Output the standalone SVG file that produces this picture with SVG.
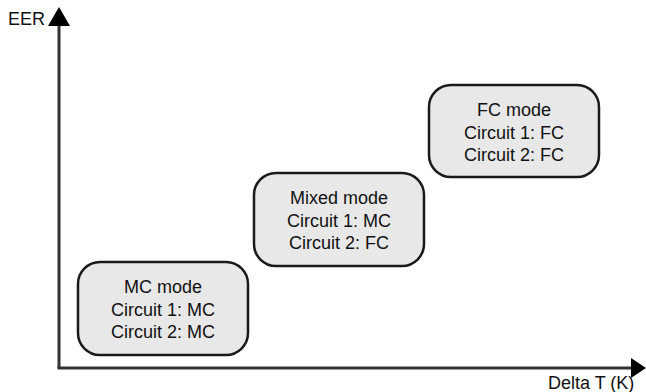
<svg xmlns="http://www.w3.org/2000/svg" width="646" height="392" viewBox="0 0 646 392">
<style>
.box{fill:#e8e8e8;stroke:#1a1a1a;stroke-width:2.5}
.t{font-family:"Liberation Sans",Arial,sans-serif;font-size:18px;fill:#111;text-anchor:middle}
.ax{stroke:#333;stroke-width:3;fill:none}
.lbl{font-family:"Liberation Sans",Arial,sans-serif;font-size:18px;fill:#111}
</style>
<rect width="646" height="392" fill="#fff"/>
<g id="axes">
<line class="ax" x1="59" y1="22" x2="59" y2="368"/>
<line class="ax" x1="57.5" y1="368" x2="634" y2="368"/>
<polygon points="59,7 70,26 48,26" fill="#000"/>
<polygon points="646,368 631,358 631,378" fill="#000"/>
<text class="lbl" x="8" y="25">EER</text>
<text class="lbl" x="548" y="389">Delta T (K)</text>
</g>
<g id="mc">
<rect class="box" x="78" y="262" width="170" height="93" rx="22"/>
<text class="t" x="163" y="293">MC mode</text>
<text class="t" x="163" y="315.5">Circuit 1: MC</text>
<text class="t" x="163" y="338">Circuit 2: MC</text>
</g>
<g id="mixed">
<rect class="box" x="254" y="173" width="170" height="93" rx="22"/>
<text class="t" x="339" y="204">Mixed mode</text>
<text class="t" x="339" y="226.5">Circuit 1: MC</text>
<text class="t" x="339" y="249">Circuit 2: FC</text>
</g>
<g id="fc">
<rect class="box" x="429" y="85" width="170" height="92" rx="22"/>
<text class="t" x="514" y="116">FC mode</text>
<text class="t" x="514" y="138.5">Circuit 1: FC</text>
<text class="t" x="514" y="161">Circuit 2: FC</text>
</g>
</svg>
